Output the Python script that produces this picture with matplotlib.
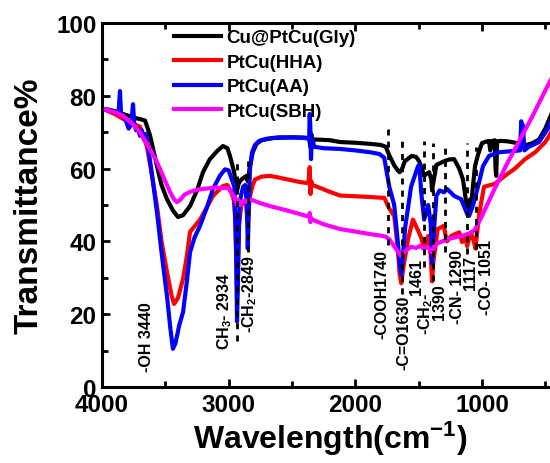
import numpy as np
import matplotlib
matplotlib.use("Agg")
import matplotlib.pyplot as plt

# ---------------- data (wavenumber cm-1, transmittance %) ----------------
gly_wn = [4000, 3950, 3900, 3850, 3800, 3750, 3700, 3660, 3620, 3566, 3530, 3487, 3440, 3400, 3360, 3305, 3250, 3203,
          3150, 3092, 3045, 3010, 2990, 2960, 2945, 2934, 2920, 2900, 2880, 2860, 2849, 2835, 2810, 2780, 2740, 2650,
          2500, 2400, 2365, 2355, 2348, 2340, 2320, 2200, 2121, 2000, 1884, 1800, 1760, 1730, 1690, 1665, 1650, 1630,
          1610, 1555, 1520, 1496, 1475, 1457, 1440, 1417, 1400, 1394, 1385, 1360, 1300, 1260, 1220, 1180, 1150, 1130,
          1122, 1117, 1110, 1102, 1095, 1085, 1075, 1055, 1030, 1000, 960, 944, 935, 925, 900, 893, 888, 880, 850, 800,
          750, 700, 650, 600, 550, 500, 470, 440, 400]
gly_t = [76.5, 76.2, 75.8, 75.2, 74.6, 74.0, 73.6, 73.2, 69.0, 60.7, 55.5, 51.6, 48.5, 46.7, 47.2, 49.7, 54.0, 59.0,
         62.5, 64.8, 66.2, 65.6, 63.5, 59.5, 56.5, 54.0, 56.0, 57.0, 57.5, 58.0, 56.5, 60.0, 64.5, 66.8, 67.8, 68.4,
         68.6, 68.5, 68.4, 66.0, 69.5, 67.2, 68.0, 67.8, 67.3, 67.1, 66.8, 66.5, 66.0, 63.5, 60.7, 59.5, 59.0, 60.0,
         62.0, 63.5, 63.2, 62.0, 60.0, 58.0, 58.5, 59.0, 57.0, 54.0, 56.0, 61.0, 62.0, 62.5, 62.6, 60.0, 57.0, 52.0,
         49.0, 48.5, 51.0, 49.0, 51.5, 50.0, 54.0, 60.7, 64.0, 67.0, 67.5, 67.6, 65.0, 67.5, 67.8, 60.0, 58.0, 67.5, 67.6, 67.5,
         67.2, 66.8, 66.5, 67.0, 68.0, 71.0, 73.5, 76.0, 79.0]

hha_wn = [4000, 3950, 3900, 3850, 3800, 3750, 3700, 3645, 3600, 3566, 3530, 3487, 3450, 3431, 3400, 3360, 3330, 3305,
          3226, 3170, 3124, 3080, 3045, 3010, 2985, 2960, 2945, 2934, 2920, 2900, 2880, 2860, 2849, 2835, 2810, 2792,
          2740, 2674, 2600, 2437, 2370, 2360, 2354, 2348, 2340, 2300, 2200, 2121, 2000, 1884, 1800, 1772, 1732, 1693,
          1665, 1650, 1638, 1620, 1584, 1545, 1505, 1480, 1457, 1440, 1425, 1405, 1394, 1385, 1350, 1300, 1290, 1276,
          1244, 1180, 1157, 1130, 1117, 1100, 1087, 1065, 1051, 1040, 1020, 984, 900, 820, 740, 660, 580, 500, 470, 440, 400]
hha_t = [76.5, 75.8, 75.0, 74.0, 73.0, 72.3, 71.5, 66.0, 57.0, 49.7, 40.0, 31.6, 25.0, 22.8, 24.5, 29.7, 36.0, 42.6,
         46.0, 49.5, 52.5, 54.0, 55.2, 55.5, 54.0, 51.5, 45.0, 25.0, 44.0, 50.0, 51.0, 50.0, 45.0, 52.0, 55.5, 57.0,
         57.8, 58.0, 57.5, 56.3, 56.0, 60.4, 53.0, 56.5, 55.5, 55.0, 53.6, 52.6, 52.4, 52.2, 52.0, 52.0, 49.0, 47.0,
         38.0, 31.0, 28.5, 33.0, 40.6, 46.0, 43.0, 41.0, 38.0, 40.0, 41.5, 36.0, 29.0, 34.0, 43.4, 44.3, 42.0, 40.0,
         41.5, 42.5, 39.8, 41.0, 38.7, 41.0, 42.5, 40.0, 38.0, 42.0, 48.0, 55.0, 55.8, 58.0, 60.0, 62.6, 64.5, 67.3, 69.0, 71.0, 73.0]

aa_wn = [4000, 3950, 3900, 3870, 3858, 3850, 3835, 3810, 3790, 3770, 3755, 3745, 3730, 3715, 3700, 3685, 3670, 3655,
         3636, 3600, 3566, 3530, 3487, 3460, 3440, 3420, 3390, 3360, 3330, 3305, 3270, 3226, 3170, 3124, 3070, 3029,
         3000, 2975, 2955, 2940, 2934, 2926, 2915, 2900, 2885, 2870, 2860, 2853, 2849, 2840, 2832, 2815, 2792, 2760,
         2700, 2600, 2437, 2380, 2365, 2360, 2355, 2350, 2345, 2338, 2325, 2250, 2121, 2000, 1884, 1810, 1772, 1732,
         1693, 1665, 1650, 1638, 1620, 1606, 1560, 1505, 1495, 1480, 1457, 1440, 1425, 1405, 1394, 1385, 1360, 1335,
         1300, 1276, 1220, 1165, 1134, 1117, 1102, 1070, 1032, 992, 944, 866, 760, 700, 690, 685, 678, 665, 630, 550,
         480, 440, 400]
aa_t = [76.5, 76.0, 75.5, 75.0, 81.3, 75.0, 74.5, 73.0, 71.0, 72.0, 77.7, 72.0, 70.5, 71.0, 69.0, 70.5, 68.0, 69.5,
        66.0, 57.0, 48.0, 37.0, 25.0, 16.0, 10.5, 12.0, 17.0, 20.6, 29.0, 37.0, 41.0, 44.3, 49.5, 54.4, 58.0, 59.8,
        59.5, 57.0, 55.0, 35.0, 18.0, 30.0, 50.0, 53.0, 55.0, 55.5, 52.0, 45.0, 38.0, 50.0, 60.0, 64.5, 66.5, 67.6,
        68.2, 68.6, 68.5, 68.3, 68.0, 75.0, 71.0, 62.6, 67.0, 68.0, 66.0, 65.6, 65.4, 65.0, 64.5, 64.0, 63.0, 55.0,
        50.0, 40.0, 34.0, 31.0, 38.0, 44.0, 55.0, 60.7, 61.0, 53.5, 46.0, 48.0, 50.0, 45.0, 34.0, 40.0, 52.5, 54.0,
        53.5, 54.4, 52.5, 51.6, 49.0, 47.5, 47.0, 50.0, 55.0, 60.7, 63.5, 64.5, 64.8, 65.0, 73.0, 66.0, 72.0, 65.0, 66.0, 67.3,
        71.0, 74.0, 77.0]

sbh_wn = [4000, 3900, 3834, 3760, 3700, 3640, 3566, 3500, 3463, 3430, 3408, 3380, 3350, 3305, 3250, 3203, 3100, 3000,
          2990, 2960, 2950, 2934, 2925, 2910, 2890, 2870, 2849, 2832, 2750, 2674, 2550, 2437, 2370, 2360, 2355, 2350,
          2340, 2250, 2121, 2000, 1884, 1800, 1760, 1730, 1700, 1670, 1650, 1638, 1620, 1600, 1560, 1520, 1490, 1461,
          1430, 1405, 1394, 1380, 1350, 1300, 1250, 1200, 1150, 1100, 1060, 1000, 900, 800, 700, 600, 500, 470, 440, 400]
sbh_t = [76.5, 75.5, 74.5, 72.3, 70.0, 66.5, 61.8, 56.5, 53.6, 51.5, 50.8, 51.5, 52.8, 53.6, 54.2, 54.4, 54.8, 54.6,
         54.0, 52.5, 51.6, 50.0, 51.5, 50.0, 51.0, 50.8, 51.5, 51.6, 50.5, 49.7, 48.6, 47.5, 46.8, 47.8, 45.3, 46.5,
         46.0, 44.7, 43.4, 42.7, 42.0, 41.6, 41.3, 40.5, 39.0, 37.5, 36.5, 36.0, 37.0, 37.5, 38.5, 38.2, 38.8, 38.0,
         38.5, 37.5, 37.0, 38.5, 39.5, 40.2, 40.8, 41.2, 41.6, 42.2, 43.0, 47.0, 54.5, 61.5, 68.0, 74.5, 81.5, 83.5, 85.5, 88.0]

series_names = ["Cu@PtCu(Gly)", "PtCu(HHA)", "PtCu(AA)", "PtCu(SBH)"]
series_colors = ["#000000", "#ff0000", "#0000ff", "#ff00ff"]

# annotation dashed lines: (wavenumber, T_bottom, T_top)
mark_wn = [2934, 2849, 1740, 1630, 1461, 1390, 1290, 1117, 1051]
mark_lo = [12.6, 37.0, 39.0, 25.5, 33.0, 29.0, 37.0, 36.5, 38.0]
mark_hi = [62.6, 62.0, 71.0, 68.0, 67.6, 67.0, 67.0, 67.0, 66.0]

# rotated labels: (text, wavenumber, T_bottom)
label_text = ["-OH 3440", "CH$_\\mathbf{3}$- 2934", "-CH$_\\mathbf{2}$-2849", "-COOH1740", "-C=O1630", "1461",
              "-CH$_\\mathbf{2}$-", "1390", "-CN- 1290", "1117", "-CO- 1051"]
label_wn = [3646, 3031, 2835, 1787, 1614, 1520, 1441, 1339, 1197, 1087, 961]
label_lo = [4.4, 10.4, 15.0, 13.5, 5.0, 25.5, 14.5, 18.7, 17.6, 27.0, 20.0]

# ---------------- plot ----------------
plt.rcParams['font.family'] = ['Liberation Sans', 'DejaVu Sans']
plt.rcParams['font.weight'] = 'bold'
plt.rcParams['mathtext.fontset'] = 'custom'
plt.rcParams['mathtext.rm'] = 'Liberation Sans:bold'
plt.rcParams['mathtext.bf'] = 'Liberation Sans:bold'
plt.rcParams['mathtext.it'] = 'Liberation Sans:bold'

fig = plt.figure(figsize=(5.5, 4.64), dpi=100)
ax = fig.add_axes([102 / 550, 1 - 388 / 464, (558 - 102) / 550, (388 - 24) / 464])

xs = [gly_wn, hha_wn, aa_wn, sbh_wn]
ys = [gly_t, hha_t, aa_t, sbh_t]
for x, y, n, c in zip(xs, ys, series_names, series_colors):
    ax.plot(x, y, color=c, lw=3.0, label=n, solid_joinstyle='round')

for w, lo, hi in zip(mark_wn, mark_lo, mark_hi):
    ax.plot([w, w], [lo, hi], color='black', lw=2.0, ls=(0, (2.2, 2.2)))

for t, w, lo in zip(label_text, label_wn, label_lo):
    ax.text(w, lo, t, rotation=90, ha='center', va='bottom', fontsize=11.5, fontweight='bold')

ax.set_xlim(4000, 400)
ax.set_ylim(0, 100)
ax.set_xticks([4000, 3000, 2000, 1000])
ax.set_xticks([3500, 2500, 1500, 500], minor=True)
ax.set_yticks([0, 20, 40, 60, 80, 100])
ax.set_yticks([10, 30, 50, 70, 90], minor=True)
ax.tick_params(which='both', direction='in', top=True, right=False, width=2)
ax.tick_params(which='major', length=6, labelsize=17.5, pad=4)
ax.tick_params(which='minor', length=4)
for lab in ax.get_xticklabels() + ax.get_yticklabels():
    lab.set_fontweight('bold')
for s in ax.spines.values():
    s.set_linewidth(2.2)

ax.set_xlabel("Wavelength(cm$^{-1}$)", fontsize=23, fontweight='bold', labelpad=2)
ax.set_ylabel("Transmittance%", fontsize=24, fontweight='bold', labelpad=8)

leg = ax.legend(loc='upper left', bbox_to_anchor=(174 / 550, 1 - 30 / 464), bbox_transform=fig.transFigure,
                frameon=False, fontsize=13.5, handlelength=2.5, handletextpad=0.3, labelspacing=0.4,
                borderpad=0.0, borderaxespad=0)
for t in leg.get_texts():
    t.set_fontweight('bold')
for l in leg.get_lines():
    l.set_linewidth(3)

fig.savefig("out.png", dpi=100)
